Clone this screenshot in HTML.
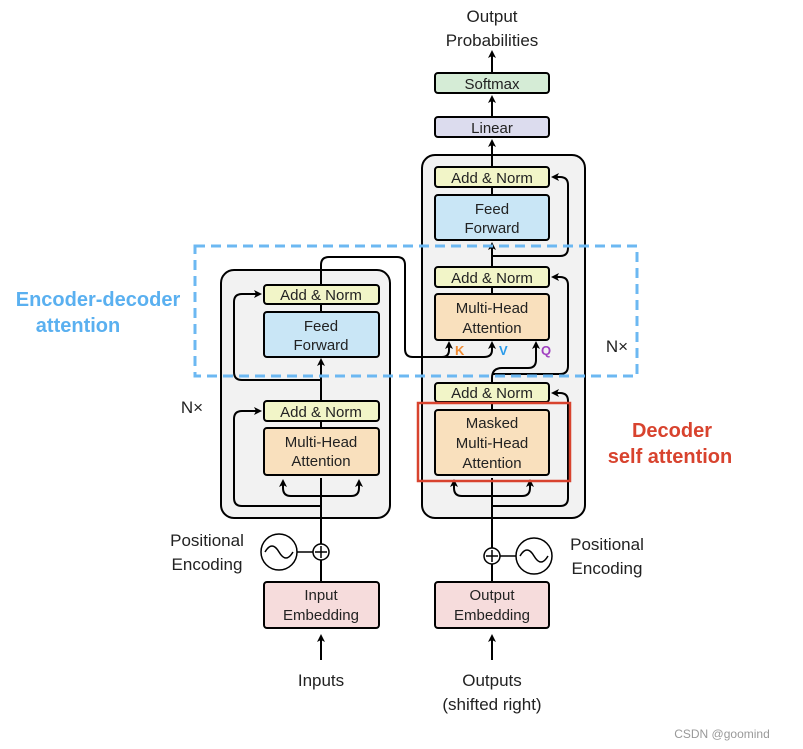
<!DOCTYPE html>
<html><head><meta charset="utf-8"><style>
body{margin:0;background:#fff;width:803px;height:749px;overflow:hidden}
svg{display:block}
text{font-family:"Liberation Sans",sans-serif}
</style></head><body>
<svg width="803" height="749" viewBox="0 0 803 749" xmlns="http://www.w3.org/2000/svg">
<defs>
<marker id="a" markerWidth="8" markerHeight="8" refX="6" refY="4" orient="auto" markerUnits="userSpaceOnUse">
<path d="M0,0 L8,4 L0,8 L2,4 z" fill="#000"/></marker>
</defs>
<g fill="#f2f2f2" stroke="#000" stroke-width="2">
<rect x="221" y="270" width="169" height="248" rx="13"/>
<rect x="422" y="155" width="163" height="363" rx="13"/>
</g>
<g stroke="#000" stroke-width="2" fill="none">
<line x1="321" y1="660" x2="321" y2="636" marker-end="url(#a)"/>
<line x1="321" y1="582" x2="321" y2="560"/>
<line x1="321" y1="544" x2="321" y2="478"/>
<line x1="321" y1="401" x2="321" y2="360" marker-end="url(#a)"/>
<path d="M321 496 H291 Q283 496 283 488 V481" marker-end="url(#a)"/>
<path d="M321 496 H351 Q359 496 359 488 V481" marker-end="url(#a)"/>
<path d="M321 506 H242 Q234 506 234 498 V419 Q234 411 242 411 H260" marker-end="url(#a)"/>
<path d="M321 380 H242 Q234 380 234 372 V302 Q234 294 242 294 H260" marker-end="url(#a)"/>
<path d="M321 285 V265 Q321 257 329 257 H397 Q405 257 405 265 V349 Q405 357 413 357 H442 Q449 357 449 350 V343" marker-end="url(#a)"/>
<path d="M440 357 H484 Q492 357 492 350 V343" marker-end="url(#a)"/>
<line x1="492" y1="660" x2="492" y2="636" marker-end="url(#a)"/>
<line x1="492" y1="582" x2="492" y2="564"/>
<line x1="492" y1="548" x2="492" y2="478"/>
<path d="M492 496 H462 Q454 496 454 488 V481" marker-end="url(#a)"/>
<path d="M492 496 H522 Q530 496 530 488 V481" marker-end="url(#a)"/>
<path d="M492 506 H560 Q568 506 568 498 V401 Q568 393 560 393 H553" marker-end="url(#a)"/>
<path d="M492 383 V378 Q492 368 502 368 H528 Q536 368 536 360 V343" marker-end="url(#a)"/>
<path d="M492 374 H560 Q568 374 568 366 V285 Q568 277 560 277 H553" marker-end="url(#a)"/>
<line x1="492" y1="267" x2="492" y2="244" marker-end="url(#a)"/>
<path d="M492 256 H560 Q568 256 568 248 V185 Q568 177 560 177 H553" marker-end="url(#a)"/>
<line x1="492" y1="167" x2="492" y2="141" marker-end="url(#a)"/>
<line x1="492" y1="117" x2="492" y2="97" marker-end="url(#a)"/>
<line x1="492" y1="73" x2="492" y2="52" marker-end="url(#a)"/>
<line x1="321" y1="421" x2="321" y2="428"/>
<line x1="321" y1="304" x2="321" y2="312"/>
<line x1="492" y1="402" x2="492" y2="410"/>
<line x1="492" y1="287" x2="492" y2="294"/>
<line x1="492" y1="187" x2="492" y2="195"/>
</g>
<g stroke="#000" stroke-width="2">
<rect x="264" y="285" width="115" height="19" rx="3" fill="#f2f5c8"/>
<rect x="264" y="312" width="115" height="45" rx="3" fill="#c9e6f6"/>
<rect x="264" y="401" width="115" height="20" rx="3" fill="#f2f5c8"/>
<rect x="264" y="428" width="115" height="47" rx="3" fill="#f9e0bd"/>
<rect x="435" y="167" width="114" height="20" rx="3" fill="#f2f5c8"/>
<rect x="435" y="195" width="114" height="45" rx="3" fill="#c9e6f6"/>
<rect x="435" y="267" width="114" height="20" rx="3" fill="#f2f5c8"/>
<rect x="435" y="294" width="114" height="46" rx="3" fill="#f9e0bd"/>
<rect x="435" y="383" width="114" height="19" rx="3" fill="#f2f5c8"/>
<rect x="435" y="410" width="114" height="65" rx="3" fill="#f9e0bd"/>
<rect x="435" y="117" width="114" height="20" rx="3" fill="#dcdcee"/>
<rect x="435" y="73" width="114" height="20" rx="3" fill="#d5ecd6"/>
<rect x="264" y="582" width="115" height="46" rx="3" fill="#f6dcdc"/>
<rect x="435" y="582" width="114" height="46" rx="3" fill="#f6dcdc"/>
</g>
<g stroke="#000" stroke-width="1.5" fill="#fff">
<circle cx="321" cy="552" r="8"/><circle cx="492" cy="556" r="8"/>
<circle cx="279" cy="552" r="18"/><circle cx="534" cy="556" r="18"/>
</g>
<g stroke="#000" stroke-width="1.5" fill="none">
<path d="M315 552 H327 M321 546 V558 M486 556 H498 M492 550 V562"/>
<path d="M265 552 Q272 540 279 552 T293 552"/>
<path d="M520 556 Q527 544 534 556 T548 556"/>
<line x1="297" y1="552" x2="313" y2="552"/><line x1="500" y1="556" x2="516" y2="556"/>
</g>
<rect x="195" y="246" width="442" height="130" fill="none" stroke="#6cb8f2" stroke-width="3" stroke-dasharray="10,6"/>
<rect x="418" y="403" width="152" height="78" fill="none" stroke="#d8432e" stroke-width="2.5"/>
<g font-size="15" fill="#222" text-anchor="middle">
<text x="321" y="300">Add &amp; Norm</text>
<text x="321" y="331">Feed</text><text x="321" y="350">Forward</text>
<text x="321" y="417">Add &amp; Norm</text>
<text x="321" y="447">Multi-Head</text><text x="321" y="466">Attention</text>
<text x="492" y="183">Add &amp; Norm</text>
<text x="492" y="214">Feed</text><text x="492" y="233">Forward</text>
<text x="492" y="283">Add &amp; Norm</text>
<text x="492" y="313">Multi-Head</text><text x="492" y="333">Attention</text>
<text x="492" y="398">Add &amp; Norm</text>
<text x="492" y="428">Masked</text><text x="492" y="448">Multi-Head</text><text x="492" y="468">Attention</text>
<text x="492" y="133">Linear</text>
<text x="492" y="89">Softmax</text>
<text x="321" y="600">Input</text><text x="321" y="620">Embedding</text>
<text x="492" y="600">Output</text><text x="492" y="620">Embedding</text>
</g>
<g font-size="17" fill="#222" text-anchor="middle">
<text x="492" y="22">Output</text><text x="492" y="46">Probabilities</text>
<text x="321" y="686">Inputs</text>
<text x="492" y="686">Outputs</text><text x="492" y="710">(shifted right)</text>
<text x="207" y="546">Positional</text><text x="207" y="570">Encoding</text>
<text x="607" y="550">Positional</text><text x="607" y="574">Encoding</text>
<text x="192" y="413">N×</text><text x="617" y="352">N×</text>
</g>
<g font-size="13" font-weight="bold">
<text x="455" y="355" fill="#f08a30">K</text>
<text x="499" y="355" fill="#2a9bea">V</text>
<text x="541" y="355" fill="#a040c0">Q</text>
</g>
<g font-size="20" font-weight="bold" text-anchor="middle">
<text x="98" y="306" fill="#5ab0f0">Encoder-decoder</text>
<text x="78" y="332" fill="#5ab0f0">attention</text>
<text x="672" y="437" fill="#d8432e">Decoder</text>
<text x="670" y="463" fill="#d8432e">self attention</text>
</g>
<text x="722" y="738" font-size="12" fill="#999" text-anchor="middle">CSDN @goomind</text>
</svg>
</body></html>
